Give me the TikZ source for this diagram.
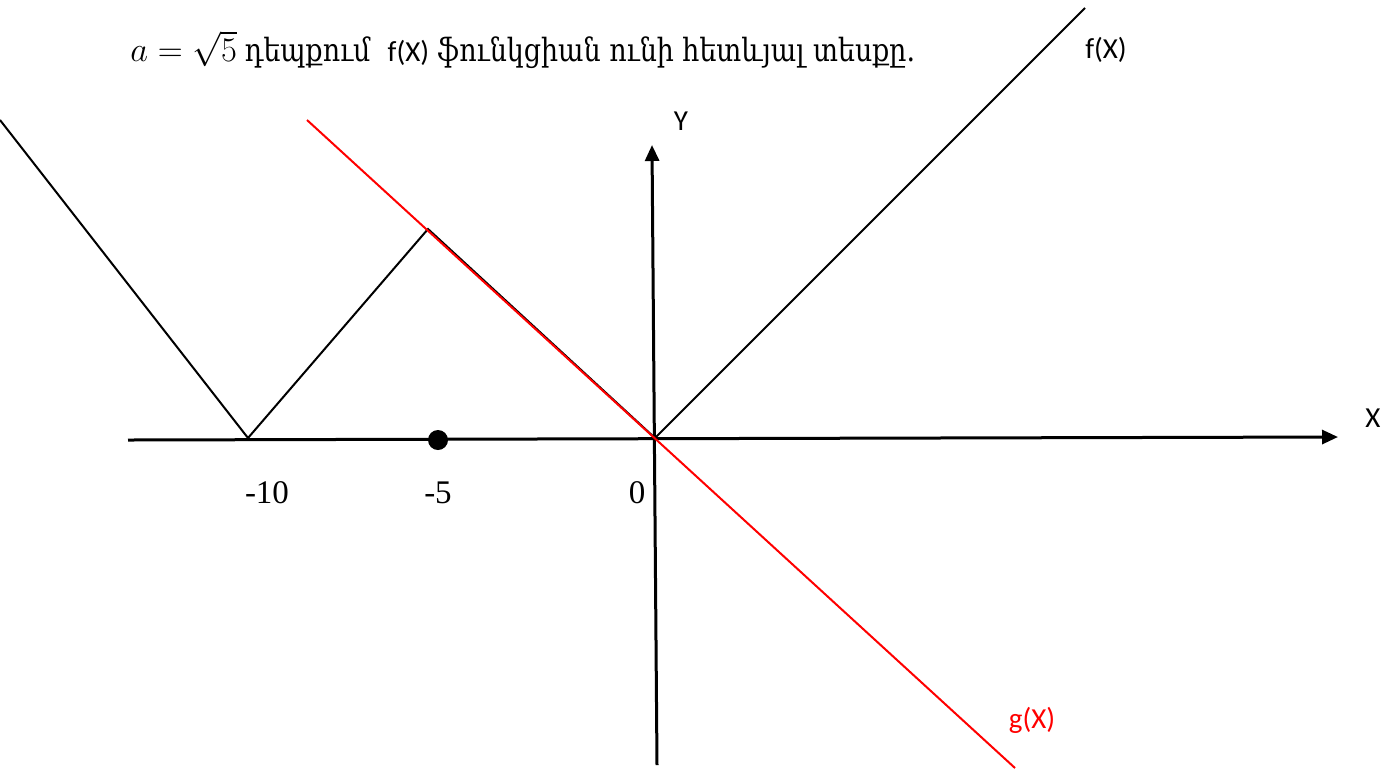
\documentclass[tikz,border=0pt]{standalone}
\usepackage{fontspec}
\usetikzlibrary{arrows.meta}
\setmainfont{Liberation Serif}
\newfontfamily\armfont[Script=Armenian,FakeStretch=0.84]{DejaVu Serif}
\newfontfamily\lblfont{Carlito}
\tikzset{
  axis/.style={line width=1.5pt,-{Triangle[length=8pt,width=7pt]}},
  graph/.style={line width=1pt,line join=miter},
  lbl/.style={font=\lblfont\fontsize{14.5}{16}\selectfont,inner sep=0pt},
  tick/.style={font=\fontsize{16.5}{18}\selectfont,inner sep=0pt}
}
\begin{document}
\begin{tikzpicture}[x=0.5pt,y=-0.5pt]
    \useasboundingbox (0,0) rectangle (1387,768);

    % Title
    \node[anchor=west,inner sep=0pt,font=\fontsize{16}{18}\selectfont] (title) at (130,50)
      {$a=\sqrt{5}$ \armfont դեպքում\ \ {\lblfont\fontsize{14.5}{16}\selectfont f(X)} ֆունկցիան ունի հետևյալ տեսքը.};

    % Axes
    \coordinate (O) at (655,438);
    \draw[axis] (128,440) -- (1338,437);
    \draw[axis] (657,765) -- (652,145);
    \node[lbl] (xlbl) at (1373,418) {X};
    \node[lbl] (ylbl) at (681,121) {Y};

    % Tick labels
    \node[tick] (m10) at (267,493) {-10};
    \node[tick] (m5) at (438,493) {-5};
    \node[tick] (zero) at (637,493) {0};

    % f(X)
    \draw[graph] (0,120) -- (248,438) -- (428,229) -- (O) -- (1085,8);
    \node[lbl] (fX) at (1106,50) {f(X)};

    % g(X)
    \draw[red,line width=1pt] (307,120) -- (1015,768);
    \node[lbl,text=red] (gX) at (1032,720) {g(X)};

    % Point
    \fill (438,440) circle[radius=10];
\end{tikzpicture}
\end{document}
